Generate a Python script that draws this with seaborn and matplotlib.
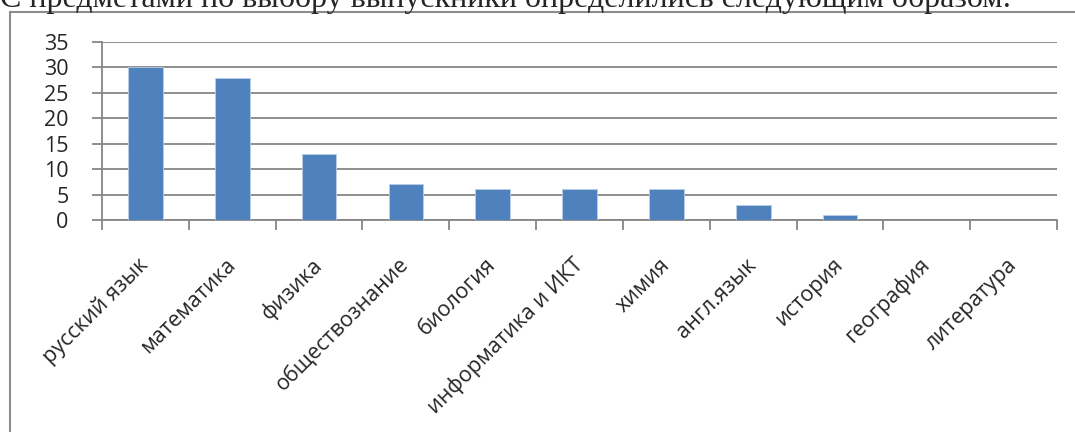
import matplotlib
matplotlib.use("Agg")
from matplotlib import pyplot as plt
from matplotlib.lines import Line2D
import seaborn as sns
import pandas as pd

# subjects chosen by graduates
subjects = ['русский язык', 'математика', 'физика', 'обществознание', 'биология',
            'информатика и ИКТ', 'химия', 'англ.язык', 'история', 'география',
            'литература']
counts = [30, 28, 13, 7, 6, 6, 6, 3, 1, 0, 0]
yticks = [0, 5, 10, 15, 20, 25, 30, 35]

data = pd.DataFrame({'subject': subjects, 'count': counts})

sns.set_style('white')
plt.rcParams['font.family'] = ['Open Sans', 'DejaVu Sans']

W, H = 1075, 432
fig = plt.figure(figsize=(W / 100, H / 100), dpi=100)
ax = fig.add_axes([102 / W, 1 - 220 / H, (1057 - 102) / W, (220 - 42) / H])

sns.barplot(x='subject', y='count', data=data, color='#4F81BD', saturation=1,
            width=0.4, edgecolor='#B9CDE5', linewidth=0.6, ax=ax, zorder=3)

ax.set_xlim(-0.5, len(subjects) - 0.5)
ax.set_ylim(0, 35)
ax.set_yticks(yticks)
ax.set_yticklabels([str(v) for v in yticks], fontsize=15.5)
ax.yaxis.grid(True, color='#868686', linewidth=1.3, zorder=0)
ax.set_axisbelow(True)
ax.set_xlabel('')
ax.set_ylabel('')

# ticks between categories, labels at the centres
ax.set_xticks([i - 0.5 for i in range(len(subjects) + 1)], minor=False)
ax.set_xticklabels([])
ax.set_xticks(range(len(subjects)), minor=True)
ax.set_xticklabels(subjects, minor=True, rotation=45, ha='right', va='center',
                   rotation_mode='anchor', fontsize=15.5)
ax.tick_params(axis='x', which='major', direction='out', length=7, width=1.3,
               color='#868686', bottom=True)
ax.tick_params(axis='x', which='minor', length=0, pad=30)
ax.tick_params(axis='y', direction='out', length=7, width=1.3, color='#868686',
               left=True, pad=17)

for s in ['top', 'right']:
    ax.spines[s].set_visible(False)
for s in ['left', 'bottom']:
    ax.spines[s].set_color('#868686')
    ax.spines[s].set_linewidth(1.3)

# chart frame (left and top edges visible)
fig.add_artist(Line2D([10 / W, 10 / W], [0, 1 - 12 / H], color='#8c8c8c', lw=1.5,
                      transform=fig.transFigure))
fig.add_artist(Line2D([10 / W, 1], [1 - 12 / H, 1 - 12 / H], color='#8c8c8c', lw=1.5,
                      transform=fig.transFigure))

fig.text(0, 1 - 7 / H, 'С предметами по выбору выпускники определились следующим образом:',
         family=['Liberation Serif', 'DejaVu Serif'], fontsize=23, va='baseline', ha='left')

fig.savefig('out.png', dpi=100)
